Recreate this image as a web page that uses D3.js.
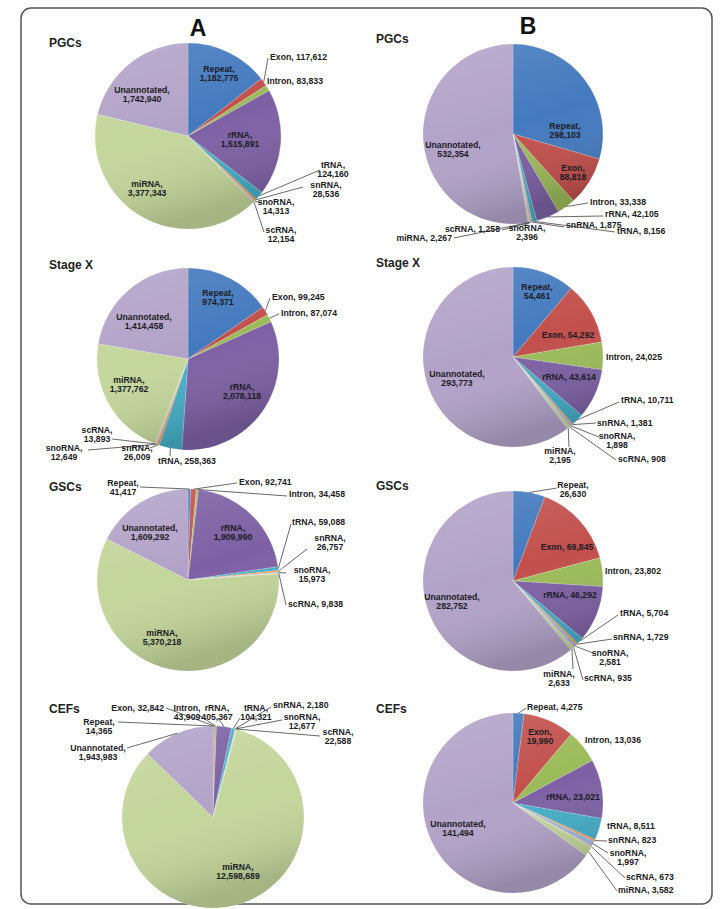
<!DOCTYPE html>
<html>
<head>
<meta charset="utf-8">
<script src="https://cdn.jsdelivr.net/npm/d3@7"></script>
<style>
  body { margin: 0; background: #fff; }
  svg { font-family: "Liberation Sans", Arial, sans-serif; }
  .lbl { font-size: 8.7px; font-weight: bold; fill: #1c1c24; }
  .ttl { font-size: 12px; font-weight: bold; fill: #222; }
  .panel { font-size: 23px; font-weight: bold; fill: #111; }
</style>
</head>
<body>
<div id="grafico"></div>
<script>
// categorias, na ordem horaria a partir das 12h
const categorias = ['Repeat', 'Exon', 'Intron', 'rRNA', 'tRNA', 'snRNA', 'snoRNA', 'scRNA', 'miRNA', 'Unannotated'];
const amostras = ['PGCs', 'Stage X', 'GSCs', 'CEFs'];

// A: total de reads
const pgcsA = [1182775, 117612, 83833, 1515891, 124160, 28536, 14313, 12154, 3377343, 1742940];
const stageXA = [974371, 99245, 87074, 2078118, 258363, 26009, 12649, 13893, 1377762, 1414458];
const gscsA = [41417, 92741, 34458, 1909990, 59088, 26757, 15973, 9838, 5370218, 1609292];
const cefsA = [14365, 32842, 43909, 405367, 104321, 2180, 12677, 22588, 12598689, 1943983];

// B: reads unicos
const pgcsB = [298103, 88818, 33338, 42105, 8156, 1875, 2396, 1258, 2267, 532354];
const stageXB = [54461, 54292, 24025, 43614, 10711, 1381, 1898, 908, 2195, 293773];
const gscsB = [26630, 69845, 23802, 46292, 5704, 1729, 2581, 935, 2633, 282752];
const cefsB = [4275, 19990, 13036, 23021, 8511, 823, 1997, 673, 3582, 141494];

const cores = ['#4379be', '#c2504c', '#9bbb59', '#7d60a4', '#45aec8', '#f39143', '#9fb8da', '#d6c39a', '#c3d69b', '#b2a2c8'];

// layout de cada grafico: centro, raio e posicao dos rotulos (relativa ao centro)
// rotulo: [dx, dy, ancora, fim da linha guia | null, linhas]
const layout = [
  { painel: 'A', amostra: 0, dados: pgcsA, cx: 188, cy: 136, r: 93, tx: 49, ty: 47, rot: {
    Repeat: [31, -62.5, 'm', null, 2], Exon: [82, -79, 's', [80, -78], 1], Intron: [79, -55, 's', null, 1],
    rRNA: [52, 3, 'm', null, 2], tRNA: [145, 33, 'm', [132, 34], 2], snRNA: [138, 53.5, 'm', [115, 51], 2],
    snoRNA: [88, 70.5, 'm', [74, 67], 2], scRNA: [93, 98, 'm', [76, 96], 2], miRNA: [-41, 52, 'm', null, 2],
    Unannotated: [-46, -41.5, 'm', null, 2] } },
  { painel: 'B', amostra: 0, dados: pgcsB, cx: 513, cy: 134, r: 90, tx: 376, ty: 43, rot: {
    Repeat: [52, -3.5, 'm', null, 2], Exon: [60, 38, 'm', null, 2], Intron: [77, 68, 's', [75, 69], 1],
    rRNA: [92, 80, 's', [90, 82], 1], tRNA: [104, 97, 's', [102, 98], 1], snRNA: [53, 91, 's', [51, 93], 1],
    snoRNA: [14, 98.5, 'm', [5, 94], 2], scRNA: [-13, 95, 'e', [-11, 96], 1], miRNA: [-61, 104, 'e', [-59, 104], 1],
    Unannotated: [-60, 15, 'm', null, 2] } },
  { painel: 'A', amostra: 1, dados: stageXA, cx: 188, cy: 359, r: 91, tx: 49, ty: 269, rot: {
    Repeat: [30, -62, 'm', null, 2], Exon: [84, -62, 's', [82, -61], 1], Intron: [93, -46, 's', [91, -45], 1],
    rRNA: [54, 32.5, 'm', null, 2], tRNA: [-30, 102, 's', [-18, 97], 1], snRNA: [-51, 93, 'm', [-38, 89], 2],
    snoRNA: [-124, 93, 'm', [-100, 91], 2], scRNA: [-91, 75.5, 'm', [-76, 80], 2], miRNA: [-59, 25.5, 'm', null, 2],
    Unannotated: [-44, -37.5, 'm', null, 2] } },
  { painel: 'B', amostra: 1, dados: stageXB, cx: 513, cy: 357, r: 90, tx: 376, ty: 267, rot: {
    Repeat: [24, -65.5, 'm', null, 2], Exon: [55, -22, 'm', null, 1], Intron: [93, 0, 's', null, 1],
    rRNA: [56, 20, 'm', null, 1], tRNA: [108, 43, 's', [106, 45], 1], snRNA: [84, 66, 's', [83, 66], 1],
    snoRNA: [104, 83, 'm', [86, 80], 2], scRNA: [105, 102, 's', [103, 103], 1], miRNA: [47, 98.5, 'm', [56, 90], 2],
    Unannotated: [-56, 21, 'm', null, 2] } },
  { painel: 'A', amostra: 2, dados: gscsA, cx: 188, cy: 580, r: 91, tx: 49, ty: 491, rot: {
    Repeat: [-65, -93, 'm', [-48, -93], 2], Exon: [51, -98, 's', [49, -97], 1], Intron: [101, -86, 's', [99, -84], 1],
    rRNA: [45, -48, 'm', null, 2], tRNA: [104, -58, 's', [103, -56], 1], snRNA: [142, -37.5, 'm', [119, -31], 2],
    snoRNA: [124, -6, 'm', [98, -7], 2], scRNA: [100, 24, 's', [98, 25], 1], miRNA: [-26, 57, 'm', null, 2],
    Unannotated: [-38, -48, 'm', null, 2] } },
  { painel: 'B', amostra: 2, dados: gscsB, cx: 513, cy: 581, r: 90, tx: 376, ty: 490, rot: {
    Repeat: [60, -92, 'm', [44, -93], 2], Exon: [54, -34, 'm', null, 1], Intron: [92, -10, 's', null, 1],
    rRNA: [57, 14, 'm', null, 1], tRNA: [107, 32, 's', [105, 34], 1], snRNA: [100, 56, 's', [99, 58], 1],
    snoRNA: [97, 76, 'm', [80, 72], 2], scRNA: [71, 97, 's', [70, 99], 1], miRNA: [46, 97, 'm', [60, 88], 2],
    Unannotated: [-61, 20.5, 'm', null, 2] } },
  { painel: 'A', amostra: 3, dados: cefsA, cx: 213, cy: 817, r: 91, tx: 49, ty: 713, rot: {
    Repeat: [-114, -91, 'm', [-95, -95], 2], Exon: [-49, -109, 'e', [-47, -109], 1], Intron: [-26, -104.5, 'm', [-16, -103], 2],
    rRNA: [4, -104.5, 'm', [5, -99], 2], tRNA: [43, -104.5, 'm', [27, -99], 2], snRNA: [60, -112, 's', [58, -110], 1],
    snoRNA: [89, -95.5, 'm', [69, -97], 2], scRNA: [125, -80.5, 'm', [107, -81], 2], miRNA: [25, 54, 'm', null, 2],
    Unannotated: [-115, -65, 'm', [-86, -69], 2] } },
  { painel: 'B', amostra: 3, dados: cefsB, cx: 513, cy: 803, r: 90, tx: 376, ty: 713, rot: {
    Repeat: [14, -96, 's', [13, -95], 1], Exon: [27, -66.5, 'm', null, 2], Intron: [72, -63, 's', null, 1],
    rRNA: [60, -6, 'm', null, 1], tRNA: [94, 23, 's', null, 1], snRNA: [95, 37, 's', [94, 38], 1],
    snoRNA: [115, 54, 'm', [95, 50], 2], scRNA: [113, 74, 's', [112, 75], 1], miRNA: [105, 87, 's', [104, 88], 1],
    Unannotated: [-55, 25, 'm', null, 2] } }
];

function criarGraficos() {
  const largura = 723;
  const altura = 909;

  const svg = d3.select('#grafico').append('svg')
    .attr('width', largura)
    .attr('height', altura);

  // gradiente suave tipo Excel 2007
  const grad = svg.append('defs').append('linearGradient')
    .attr('id', 'sombra').attr('x1', 0).attr('y1', 0).attr('x2', 0.3).attr('y2', 1);
  grad.append('stop').attr('offset', '0%').attr('stop-color', '#fff').attr('stop-opacity', 0.14);
  grad.append('stop').attr('offset', '55%').attr('stop-color', '#fff').attr('stop-opacity', 0);
  grad.append('stop').attr('offset', '100%').attr('stop-color', '#000').attr('stop-opacity', 0.16);

  // moldura
  svg.append('rect')
    .attr('x', 21).attr('y', 8).attr('width', 691).attr('height', 896)
    .attr('rx', 10)
    .attr('fill', 'none').attr('stroke', '#555').attr('stroke-width', 1.5);

  svg.append('text').attr('class', 'panel').attr('x', 198).attr('y', 36).attr('text-anchor', 'middle').text('A');
  svg.append('text').attr('class', 'panel').attr('x', 528).attr('y', 34).attr('text-anchor', 'middle').text('B');

  const cor = d3.scaleOrdinal().domain(categorias).range(cores);
  const fmt = d3.format(',');
  const pie = d3.pie().sort(null).value((d) => d.valor);

  layout.forEach((cfg) => {
    const dados = categorias.map((c, i) => ({ categoria: c, valor: cfg.dados[i] }));
    const arcos = pie(dados);
    const arco = d3.arc().innerRadius(0).outerRadius(cfg.r);

    const g = svg.append('g').attr('transform', `translate(${cfg.cx},${cfg.cy})`);

    svg.append('text').attr('class', 'ttl')
      .attr('x', cfg.tx).attr('y', cfg.ty)
      .text(amostras[cfg.amostra]);

    g.selectAll('path.fatia')
      .data(arcos)
      .enter()
      .append('path')
      .attr('class', 'fatia')
      .attr('d', arco)
      .attr('fill', (d) => cor(d.data.categoria))
      .attr('stroke', '#fff')
      .attr('stroke-opacity', 0.35)
      .attr('stroke-width', 0.5);

    g.append('circle').attr('r', cfg.r).attr('fill', 'url(#sombra)').attr('pointer-events', 'none');

    // linhas guia
    arcos.forEach((d) => {
      const p = cfg.rot[d.data.categoria];
      if (!p || !p[3]) return;
      const meio = (d.startAngle + d.endAngle) / 2;
      const x0 = Math.sin(meio) * cfg.r;
      const y0 = -Math.cos(meio) * cfg.r;
      g.append('line')
        .attr('x1', x0).attr('y1', y0)
        .attr('x2', p[3][0]).attr('y2', p[3][1])
        .attr('stroke', '#444').attr('stroke-width', 0.8);
    });

    // rotulos
    arcos.forEach((d) => {
      const p = cfg.rot[d.data.categoria];
      if (!p) return;
      const ancora = { m: 'middle', s: 'start', e: 'end' }[p[2]];
      const linhas = p[4] === 2
        ? [`${d.data.categoria},`, fmt(d.data.valor)]
        : [`${d.data.categoria}, ${fmt(d.data.valor)}`];
      const t = g.append('text').attr('class', 'lbl').attr('text-anchor', ancora);
      linhas.forEach((l, i) => {
        t.append('tspan')
          .attr('x', p[0])
          .attr('y', p[1] + 3 + (i - (linhas.length - 1) / 2) * 9)
          .text(l);
      });
    });
  });
}

criarGraficos();
</script>
</body>
</html>
